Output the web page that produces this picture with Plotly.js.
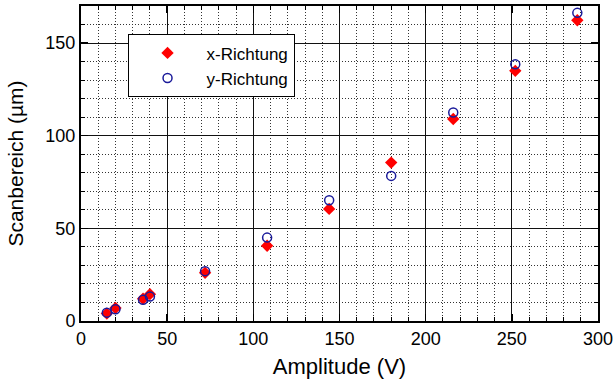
<!DOCTYPE html>
<html>
<head>
<meta charset="utf-8">
<script src="https://cdn.plot.ly/plotly-3.0.1.min.js"></script>
<style>html,body{margin:0;padding:0;background:#fff}#chart{width:615px;height:383px}</style>
</head>
<body>
<div id="chart"></div>
<script>
// Data
const amplitudeX = [15, 20, 36, 40, 72, 108, 144, 180, 216, 252, 288];
const scanX = [4, 7, 12, 14.5, 26, 40.6, 60.5, 85.5, 109, 135, 162.3];
const amplitudeY = [15, 20, 36, 40, 72, 108, 144, 180, 216, 252, 288];
const scanY = [4.5, 6.3, 11.5, 13.2, 26.9, 45, 65.2, 78.3, 112.5, 138.5, 166.3];
const seriesNames = ["x-Richtung", "y-Richtung"];

const FONT = "Liberation Sans, Arial, Helvetica, sans-serif";

const traces = [
  {
    x: amplitudeX, y: scanX, name: seriesNames[0], type: "scatter", mode: "markers",
    marker: {symbol: "diamond", size: 9.5, color: "#ff0000", line: {width: 0}}
  },
  {
    x: amplitudeY, y: scanY, name: seriesNames[1], type: "scatter", mode: "markers",
    marker: {symbol: "circle-open", size: 9, color: "#1a1a9a", line: {width: 1.5, color: "#1a1a9a"}}
  }
];

function axis(range, titleText, titleSize, standoff) {
  return {
    range: range, tick0: 0, dtick: 50,
    ticks: "inside", ticklen: 7, tickwidth: 1.5, tickcolor: "#000",
    showline: true, linewidth: 2, linecolor: "#000", mirror: "allticks",
    showgrid: true, gridcolor: "#111", gridwidth: 1,
    zeroline: false,
    tickfont: {family: FONT, size: 18, color: "#000"},
    title: {text: titleText, font: {family: FONT, size: titleSize, color: "#000"}, standoff: standoff},
    minor: {dtick: 10, ticks: "inside", ticklen: 4, tickwidth: 1, tickcolor: "#000",
            showgrid: true, gridcolor: "#333", griddash: "1px,2px", gridwidth: 1}
  };
}

const layout = {
  width: 615, height: 383,
  margin: {l: 81, r: 17, t: 6, b: 62},
  paper_bgcolor: "#fff", plot_bgcolor: "#fff",
  font: {family: FONT, color: "#000"},
  xaxis: axis([0, 300], "Amplitude (V)", 22, 11),
  yaxis: axis([0, 170], "Scanbereich (µm)", 21, 16),
  showlegend: true,
  legend: {
    x: 0.09, y: 0.91, xanchor: "left", yanchor: "top",
    bgcolor: "#fff", bordercolor: "#000", borderwidth: 1,
    font: {family: FONT, size: 17, color: "#000"},
    itemwidth: 68, tracegroupgap: 0
  }
};

Plotly.newPlot("chart", traces, layout, {displayModeBar: false, staticPlot: true});
</script>
</body>
</html>
